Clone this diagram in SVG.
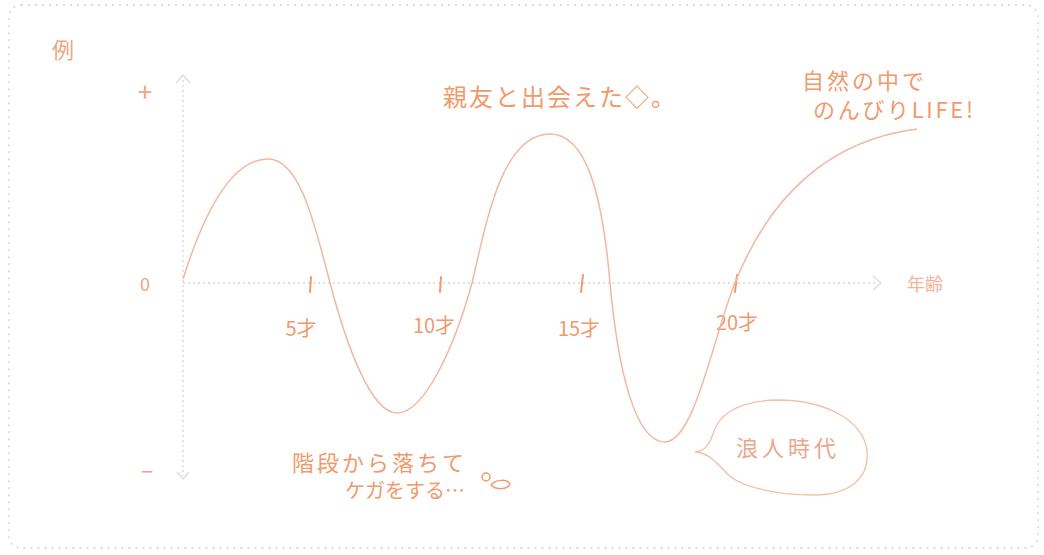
<svg xmlns="http://www.w3.org/2000/svg" width="1044" height="555" viewBox="0 0 1044 555">
<style>
  .hand { font-family: "Noto Sans CJK JP", "Noto Sans", sans-serif; fill: #f09a6c; }
  .lbl { font-family: "Noto Sans CJK JP", "Noto Sans", sans-serif; fill: #eea583; }
  .axis { stroke: #d6d6d6; stroke-width: 1.3; stroke-dasharray: 2 3; fill: none; }
  .chev { stroke: #dcdcdc; stroke-width: 1.3; fill: none; }
  .tick { stroke: #f09a6c; stroke-width: 2; stroke-linecap: round; }
  .curve { stroke: #f3b7a0; stroke-width: 1.5; fill: none; }
</style>
<rect x="0" y="0" width="1044" height="555" fill="#ffffff"/>
<rect id="frame" x="9" y="5" width="1029" height="543" rx="12" fill="none" stroke="#cfcfcf" stroke-width="1.3" stroke-dasharray="2 5"/>

<g id="title"><text class="lbl" x="63" y="58" font-size="22" text-anchor="middle">例</text></g>

<g id="axes">
  <line class="axis" x1="183" y1="80" x2="183" y2="476"/>
  <polyline class="chev" points="176,83 183,75 190,83"/>
  <polyline class="chev" points="177,472 183,479 189,472"/>
  <line class="axis" x1="183" y1="283" x2="878" y2="283"/>
  <polyline class="chev" points="873,276 881,283 873,290"/>
  <text class="lbl" x="145" y="102" font-size="26" text-anchor="middle">+</text>
  <text class="lbl" x="145" y="291" font-size="18" text-anchor="middle">0</text>
  <text class="lbl" x="147" y="480" font-size="22" text-anchor="middle">−</text>
  <text x="925" y="291" font-size="18" text-anchor="middle" style="font-family:'Noto Sans CJK JP','Noto Sans',sans-serif;fill:#f1b496">年齢</text>
</g>

<g id="ticks">
  <line class="tick" x1="311" y1="277" x2="310" y2="292"/>
  <line class="tick" x1="441" y1="277" x2="440" y2="292"/>
  <line class="tick" x1="583" y1="275" x2="581" y2="292"/>
  <line class="tick" x1="737" y1="275" x2="735" y2="292"/>
  <text class="hand" x="301" y="336" font-size="20" text-anchor="middle">5才</text>
  <text class="hand" x="434" y="333" font-size="20" text-anchor="middle">10才</text>
  <text class="hand" x="579" y="336" font-size="20" text-anchor="middle">15才</text>
  <text class="hand" x="737" y="330" font-size="20" text-anchor="middle">20才</text>
</g>

<g id="connectors">
  <path id="life-curve" class="curve" d="M183,279 C200,225 228,159 268,159 C300,159 315,225 330,283 C345,340 370,413 397,413 C425,413 455,345 472,283 C485,230 500,134 550,134 C585,134 602,190 610,283 C618,370 635,442 665,442 C695,442 715,330 735,283 C770,195 830,140 917,129"/>
</g>

<g id="note-friend">
  <text class="hand" x="443" y="106" font-size="24" letter-spacing="2">親友と出会えた◇。</text>
</g>

<g id="note-nature">
  <text class="hand" x="802" y="89" font-size="22" letter-spacing="3">自然の中で</text>
  <text class="hand" x="813" y="118" font-size="22" textLength="160">のんびりLIFE!</text>
</g>

<g id="note-stairs">
  <text class="hand" x="292" y="471" font-size="22" letter-spacing="3">階段から落ちて</text>
  <text class="hand" x="345" y="498" font-size="20">ケガをする…</text>
  <circle cx="486" cy="477" r="4" fill="none" stroke="#f09a6c" stroke-width="1.5"/>
  <path d="M491,485 C496,479 507,479 510,484 C507,490 496,490 491,485 Z" fill="none" stroke="#f09a6c" stroke-width="1.5"/>
</g>

<g id="bubble-ronin">
  <path d="M695,452 C704,451 709,446 713,434 C719,413 738,401 777,400 C822,400 862,418 867,450 C870,478 850,495 813,495 C780,495 745,488 731,477 C721,469 712,453 695,452 Z" fill="#ffffff" stroke="#f3bfa9" stroke-width="1.3"/>
  <text x="788" y="456" font-size="22" text-anchor="middle" letter-spacing="4" style="font-family:'Noto Sans CJK JP','Noto Sans',sans-serif;fill:#eaa78c">浪人時代</text>
</g>
</svg>
